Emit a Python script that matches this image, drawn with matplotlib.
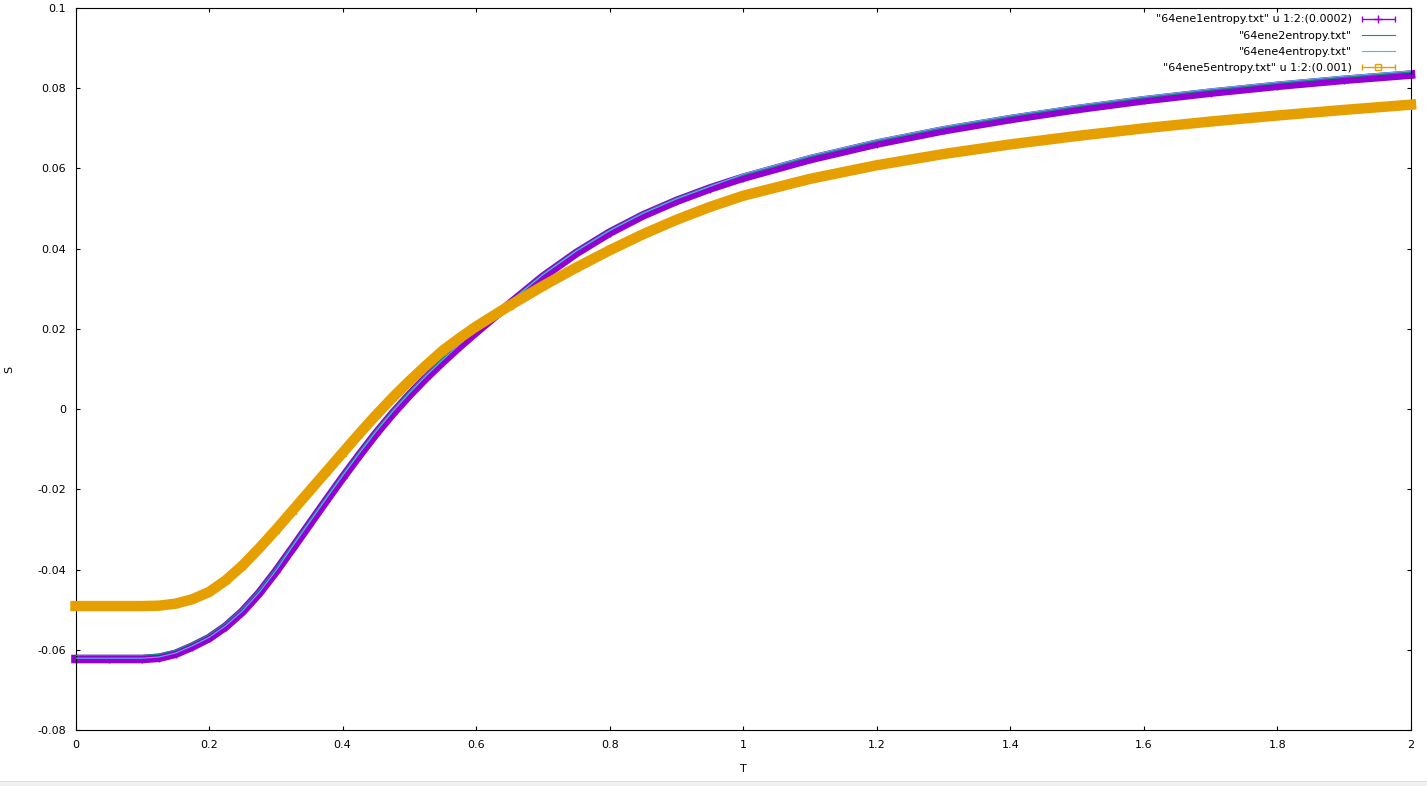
import matplotlib
matplotlib.use("Agg")
import matplotlib.pyplot as plt
from matplotlib.patches import Rectangle
from matplotlib.legend_handler import HandlerErrorbar

# temperature grid
T = [0.0, 0.05, 0.1, 0.125, 0.15, 0.175, 0.2, 0.225, 0.25, 0.275, 0.3,
     0.325, 0.35, 0.375, 0.4, 0.425, 0.45, 0.475, 0.5, 0.525, 0.55, 0.575,
     0.6, 0.65, 0.7, 0.75, 0.8, 0.85, 0.9, 0.95, 1.0, 1.1, 1.2, 1.3, 1.4,
     1.5, 1.6, 1.7, 1.8, 1.9, 2.0]

# 64ene1entropy.txt
S1 = [-0.0623, -0.0623, -0.0623, -0.0620, -0.0610, -0.0592, -0.0571, -0.0542,
      -0.0505, -0.0459, -0.0405, -0.0347, -0.0288, -0.0229, -0.0171, -0.0115,
      -0.0061, -0.0011, 0.0035, 0.0078, 0.0118, 0.0156, 0.0192, 0.0262,
      0.0330, 0.0389, 0.0440, 0.0483, 0.0519, 0.0550, 0.0577, 0.0623, 0.0662,
      0.0695, 0.0723, 0.0748, 0.0770, 0.0789, 0.0806, 0.0821, 0.0834]
# 64ene2entropy.txt
S2 = [-0.0614, -0.0614, -0.0614, -0.0611, -0.0601, -0.0583, -0.0562, -0.0533,
      -0.0496, -0.0450, -0.0396, -0.0338, -0.0279, -0.0220, -0.0162, -0.0106,
      -0.0052, -0.0002, 0.0044, 0.0087, 0.0127, 0.0165, 0.0201, 0.0269,
      0.0337, 0.0396, 0.0447, 0.0490, 0.0526, 0.0557, 0.0583, 0.0629, 0.0668,
      0.0701, 0.0729, 0.0754, 0.0776, 0.0795, 0.0812, 0.0827, 0.0840]
# 64ene4entropy.txt
S4 = [-0.0621, -0.0621, -0.0621, -0.0618, -0.0608, -0.0590, -0.0569, -0.0540,
      -0.0503, -0.0457, -0.0403, -0.0342, -0.0283, -0.0224, -0.0166, -0.0110,
      -0.0056, -0.0006, 0.0040, 0.0083, 0.0123, 0.0161, 0.0197, 0.0267,
      0.0335, 0.0394, 0.0445, 0.0488, 0.0524, 0.0555, 0.0586, 0.0632, 0.0671,
      0.0704, 0.0732, 0.0757, 0.0779, 0.0798, 0.0815, 0.0830, 0.0843]
# 64ene5entropy.txt
S5 = [-0.0491, -0.0491, -0.0491, -0.0490, -0.0485, -0.0474, -0.0456, -0.0427,
      -0.0390, -0.0347, -0.0301, -0.0253, -0.0205, -0.0157, -0.0109, -0.0061,
      -0.0015, 0.0029, 0.0070, 0.0109, 0.0146, 0.0177, 0.0206, 0.0258,
      0.0307, 0.0353, 0.0396, 0.0436, 0.0472, 0.0504, 0.0532, 0.0574, 0.0608,
      0.0636, 0.0660, 0.0681, 0.0700, 0.0717, 0.0732, 0.0746, 0.0759]

labels = ['"64ene1entropy.txt" u 1:2:(0.0002)',
          '"64ene2entropy.txt"',
          '"64ene4entropy.txt"',
          '"64ene5entropy.txt" u 1:2:(0.001)']

xticks = [0, 0.2, 0.4, 0.6, 0.8, 1, 1.2, 1.4, 1.6, 1.8, 2]
yticks = [-0.08, -0.06, -0.04, -0.02, 0, 0.02, 0.04, 0.06, 0.08, 0.1]

PURPLE = "#9400d3"
GREEN = "#009e73"
CYAN = "#56b4e9"
ORANGE = "#e69f00"

W, H = 1427, 786
fig = plt.figure(figsize=(W / 100, H / 100), dpi=100)
ax = fig.add_axes([75.5 / W, 56 / H, (1411 - 75.5) / W, 722 / H])

# the dense point bands are drawn as thick lines; the error bar markers
# sit underneath and mostly serve the legend
e1 = ax.errorbar(T, S1, xerr=0.0002, fmt="+", color=PURPLE, ms=5.5, mew=1,
                 capsize=2.5, elinewidth=1, zorder=1.5)
ax.plot(T, S1, color=PURPLE, lw=6.2, solid_capstyle="projecting",
        solid_joinstyle="round", clip_on=False, zorder=2)
l2, = ax.plot(T, S2, color=GREEN, lw=0.8, zorder=3)
l4, = ax.plot(T, S4, color=CYAN, lw=0.8, zorder=4)
e5 = ax.errorbar(T, S5, xerr=0.001, fmt="s", mfc="none", color=ORANGE,
                 ms=5, mew=1, capsize=2.5, elinewidth=1, zorder=4.5)
ax.plot(T, S5, color=ORANGE, lw=7.5, solid_capstyle="projecting",
        solid_joinstyle="round", clip_on=False, zorder=5)

ax.set_xlim(0, 2)
ax.set_ylim(-0.08, 0.1)
ax.set_xticks(xticks)
ax.set_xticklabels([f"{v:g}" for v in xticks])
ax.set_yticks(yticks)
ax.set_yticklabels([f"{v:g}" for v in yticks])
ax.tick_params(direction="in", top=True, right=True, length=3, width=0.8,
               labelsize=8, pad=7)
for sp in ax.spines.values():
    sp.set_linewidth(0.8)

ax.set_xlabel("T", fontsize=8)
ax.set_ylabel("S", fontsize=8)
ax.xaxis.set_label_coords(0.5, -0.047)
ax.yaxis.set_label_coords(-0.046, 0.5)

ax.legend([e1, l2, l4, e5], labels, loc="upper right",
          bbox_to_anchor=(0.988, 0.991), markerfirst=False, frameon=False,
          fontsize=8, handlelength=3, handletextpad=0.9, labelspacing=0.55,
          borderpad=0, borderaxespad=0,
          handler_map={type(e1): HandlerErrorbar(xerr_size=1.5)})

# window status strip at the bottom of the screenshot
fig.add_artist(Rectangle((0, 0), 1, 4 / H, transform=fig.transFigure,
                         facecolor="#f0f0f0", edgecolor="none"))
fig.add_artist(Rectangle((0, 4 / H), 1, 1 / H, transform=fig.transFigure,
                         facecolor="#dcdcdc", edgecolor="none"))

fig.savefig("out.png", dpi=100)
